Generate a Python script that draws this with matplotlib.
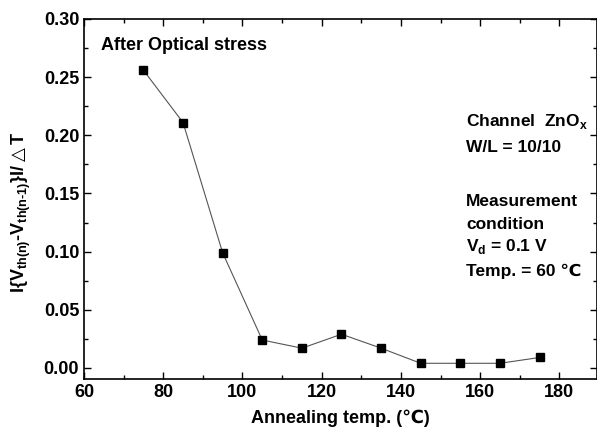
import matplotlib
matplotlib.use('Agg')
import matplotlib.pyplot as plt
from matplotlib.ticker import MultipleLocator

plt.rcParams['font.family'] = ['Liberation Sans', 'DejaVu Sans']
plt.rcParams['font.weight'] = 'bold'
plt.rcParams['mathtext.fontset'] = 'dejavusans'

# annealing temperature (C) and shift rate
temps = [75, 85, 95, 105, 115, 125, 135, 145, 155, 165, 175]
rate = [0.256, 0.211, 0.099, 0.024, 0.017, 0.029, 0.017, 0.004, 0.004, 0.004, 0.009]

fig = plt.figure(figsize=(5.97, 4.36), dpi=100)
ax = fig.add_axes([84 / 597, 1 - 379 / 436, 1 - 84 / 597, 360 / 436])

ax.plot(temps, rate, color='#555555', linewidth=0.8, marker='s',
        markersize=6, markerfacecolor='black', markeredgecolor='black')

ax.set_xlim(60, 189.5)
ax.set_ylim(-0.0095, 0.30)
ax.xaxis.set_major_locator(MultipleLocator(20))
ax.xaxis.set_minor_locator(MultipleLocator(10))
ax.yaxis.set_major_locator(MultipleLocator(0.05))
ax.yaxis.set_minor_locator(MultipleLocator(0.025))
ax.yaxis.set_major_formatter(plt.FormatStrFormatter('%.2f'))
ax.tick_params(which='both', direction='in', top=True, right=True, labelsize=13)
ax.tick_params(which='major', length=5, width=1)
ax.tick_params(which='minor', length=3, width=1)
for s in ax.spines.values():
    s.set_linewidth(1.2)

ax.set_xlabel('Annealing temp. (℃)', fontsize=13, fontweight='bold', labelpad=6)
ax.set_ylabel('I{V$_{\\mathregular{th(n)}}$-V$_{\\mathregular{th(n\u20101)}}$}I/$\\triangle$T',
              fontsize=13, fontweight='bold')
ax.yaxis.set_label_coords(-0.10, 0.464)

ax.text(0.033, 0.925, 'After Optical stress', transform=ax.transAxes,
        fontsize=13, fontweight='bold', va='center')

tx = 466
ax.annotate(r'Channel  ZnO$_{\mathregular{x}}$', xy=(tx / 597, 1 - 121 / 436),
            xycoords='figure fraction', fontsize=12.5, fontweight='bold', va='center')
ax.annotate('W/L = 10/10', xy=(tx / 597, 1 - 148 / 436),
            xycoords='figure fraction', fontsize=12.5, fontweight='bold', va='center')
ax.annotate('Measurement', xy=(tx / 597, 1 - 201 / 436),
            xycoords='figure fraction', fontsize=12.5, fontweight='bold', va='center')
ax.annotate('condition', xy=(tx / 597, 1 - 224 / 436),
            xycoords='figure fraction', fontsize=12.5, fontweight='bold', va='center')
ax.annotate(r'V$_{\mathregular{d}}$ = 0.1 V', xy=(tx / 597, 1 - 246 / 436),
            xycoords='figure fraction', fontsize=12.5, fontweight='bold', va='center')
ax.annotate('Temp. = 60 ℃', xy=(tx / 597, 1 - 271 / 436),
            xycoords='figure fraction', fontsize=12.5, fontweight='bold', va='center')

fig.savefig('out.png', dpi=100)
